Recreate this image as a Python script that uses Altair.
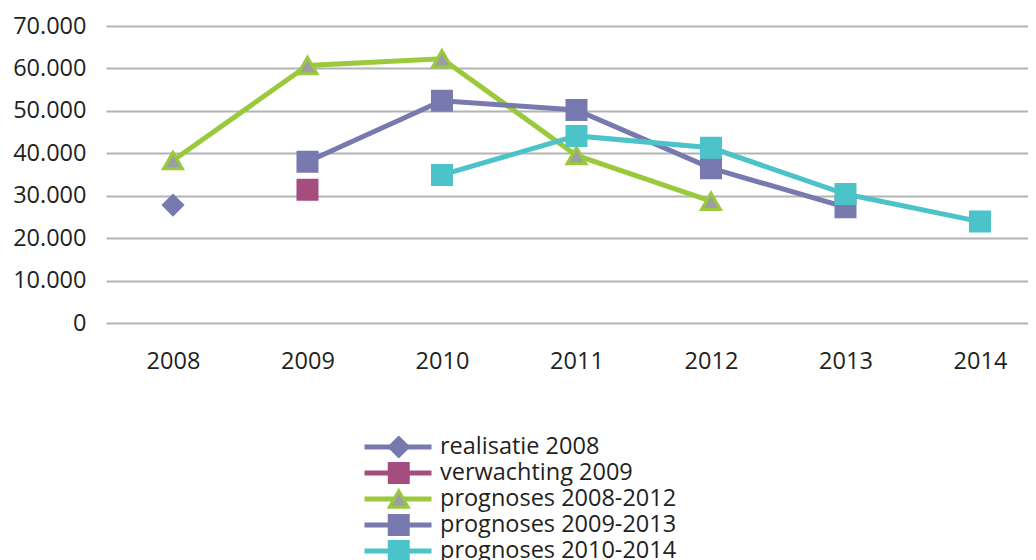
import altair as alt
import pandas as pd

# ---- data ----
series_names = [
    "realisatie 2008",
    "verwachting 2009",
    "prognoses 2008-2012",
    "prognoses 2009-2013",
    "prognoses 2010-2014",
]
realisatie_2008_years = [2008]
realisatie_2008_values = [27800]
verwachting_2009_years = [2009]
verwachting_2009_values = [31400]
prognoses_0812_years = [2008, 2009, 2010, 2011, 2012]
prognoses_0812_values = [38300, 60700, 62300, 39500, 28700]
prognoses_0913_years = [2009, 2010, 2011, 2012, 2013]
prognoses_0913_values = [38000, 52400, 50200, 36500, 27300]
prognoses_1014_years = [2010, 2011, 2012, 2013, 2014]
prognoses_1014_values = [34900, 44100, 41300, 30400, 23900]
x_tick_years = [2008, 2009, 2010, 2011, 2012, 2013, 2014]
y_tick_values = [0, 10000, 20000, 30000, 40000, 50000, 60000, 70000]

series_years = [realisatie_2008_years, verwachting_2009_years, prognoses_0812_years,
                prognoses_0913_years, prognoses_1014_years]
series_values = [realisatie_2008_values, verwachting_2009_values, prognoses_0812_values,
                 prognoses_0913_values, prognoses_1014_values]

rows = []
for name, yrs, vals in zip(series_names, series_years, series_values):
    for yr, v in zip(yrs, vals):
        rows.append({"series": name, "marker": name, "year": yr, "value": v})
df = pd.DataFrame(rows)

# ---- styles ----
FONT = "Open Sans"
FS = 23.5
TEXT = "#231F20"
line_colors = ["#7779AF", "#A64D80", "#9BC93C", "#7779AF", "#4BC3C9"]
fill_colors = ["#7779AF", "#A64D80", "#9B9EA2", "#7779AF", "#4BC3C9"]
shapes = ["diamond", "square", "triangle-up", "square", "square"]

# legend of the lines (carries the labels)
line_legend = alt.Legend(
    title=None, orient="none", legendX=256, legendY=410, direction="vertical",
    labelFont=FONT, labelFontSize=FS, labelColor=TEXT, labelOffset=6, labelLimit=500,
    rowPadding=2, clipHeight=22,
    symbolType="stroke", symbolSize=4489, symbolStrokeWidth=5, symbolOpacity=1,
)
# legend of the markers, drawn on top of the line stubs (no labels of its own)
marker_legend = alt.Legend(
    title=None, orient="none", legendX=281, legendY=410, direction="vertical",
    labelFont=FONT, labelFontSize=FS, labelExpr="''", labelOffset=6,
    rowPadding=2, clipHeight=22,
    symbolSize=361, symbolStrokeWidth=3, symbolOpacity=1, zindex=2,
)

x_enc = alt.X(
    "year:Q",
    scale=alt.Scale(domain=[2007.502, 2014.357], nice=False, zero=False),
    axis=alt.Axis(values=x_tick_years, format="d", grid=False, domain=False, ticks=False,
                  labelPadding=26, title=None, labelFont=FONT, labelFontSize=FS,
                  labelColor=TEXT),
)
y_enc = alt.Y(
    "value:Q",
    scale=alt.Scale(domain=[0, 70000], nice=False),
    axis=alt.Axis(values=y_tick_values,
                  labelExpr="replace(format(datum.value, ','), ',', '.')",
                  title=None, domain=False, ticks=False, labelPadding=20,
                  gridColor="#B3B3B3", gridWidth=2, labelFont=FONT, labelFontSize=FS,
                  labelColor=TEXT),
)

lines = alt.Chart(df).mark_line(strokeWidth=5).encode(
    x=x_enc, y=y_enc,
    stroke=alt.Stroke("series:N", scale=alt.Scale(domain=series_names, range=line_colors),
                      legend=line_legend),
)
points = alt.Chart(df).mark_point(filled=True, size=361, strokeWidth=3, opacity=1).encode(
    x=x_enc, y=y_enc,
    fill=alt.Fill("marker:N", scale=alt.Scale(domain=series_names, range=fill_colors),
                  legend=marker_legend),
    stroke=alt.Stroke("marker:N", scale=alt.Scale(domain=series_names, range=line_colors),
                      legend=marker_legend),
    shape=alt.Shape("marker:N", scale=alt.Scale(domain=series_names, range=shapes),
                    legend=marker_legend),
)

chart = alt.layer(lines, points).resolve_scale(
    stroke="independent", fill="independent", shape="independent"
).resolve_legend(
    stroke="independent", fill="independent", shape="independent"
).properties(
    width=922,
    height=297,
    autosize=alt.AutoSizeParams(type="none"),
    padding={"left": 98, "top": 18, "right": 0, "bottom": 237},
    background="white",
).configure_view(stroke=None)

chart.save("out.html", embed_options={"renderer": "svg", "actions": False})
